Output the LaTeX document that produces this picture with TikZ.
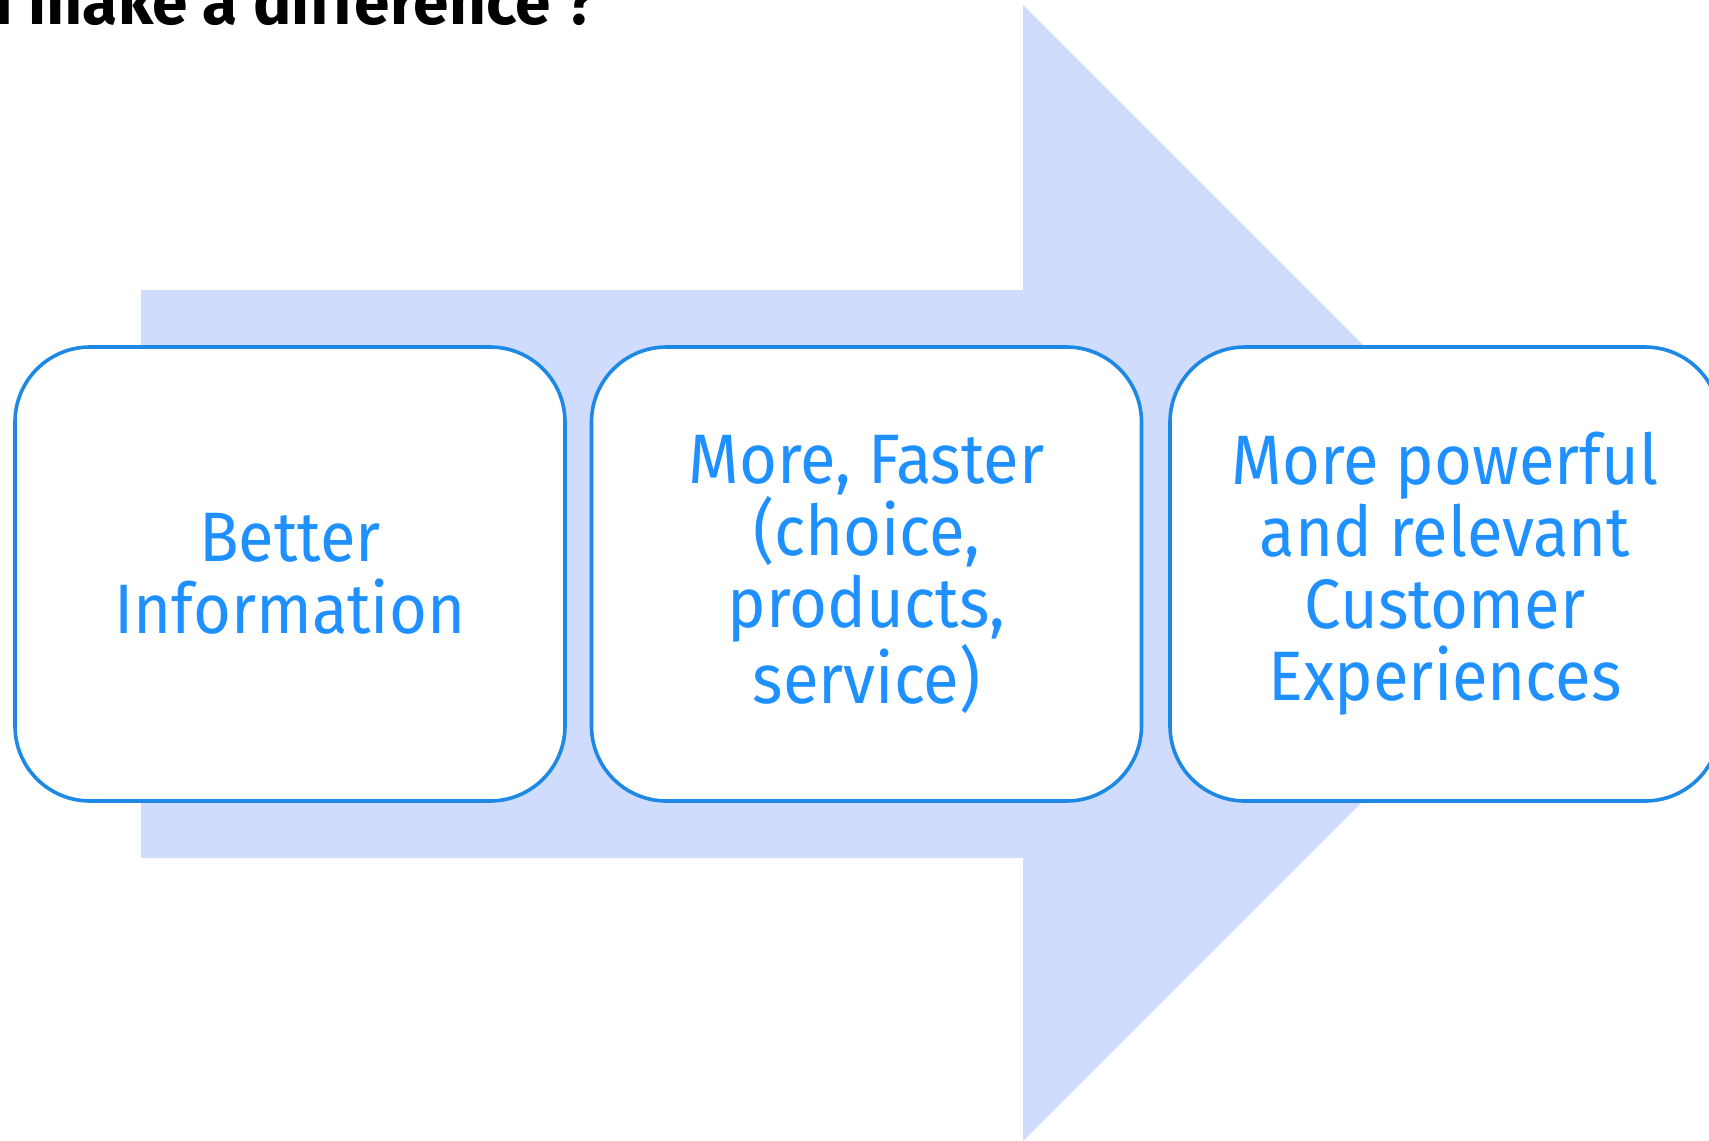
\documentclass[tikz,border=0pt]{standalone}
\usepackage{fontspec}
\setmainfont{Fira Sans}[FakeStretch=0.93]
\newfontfamily\titlefont{Fira Sans}
\definecolor{arrowfill}{HTML}{CFDCFD}
\definecolor{boxline}{HTML}{1E88E5}
\definecolor{boxtext}{HTML}{1E90FF}
\tikzset{
  stagebox/.style={draw=boxline, line width=1.8pt, fill=white, rounded corners=37.5pt,
    minimum width=275pt, minimum height=227pt, inner sep=0pt, align=center,
    text=boxtext, font=\fontsize{35pt}{36pt}\selectfont},
}
\begin{document}
\begin{tikzpicture}[x=0.5pt,y=-0.5pt]
\useasboundingbox (0,0) rectangle (1709,1141);
\clip (0,0) rectangle (1709,1141);
\fill[arrowfill] (141,290) -- (1023,290) -- (1023,5) -- (1591,573) -- (1023,1141) -- (1023,858) -- (141,858) -- cycle;
\node[stagebox] (b1) at (290,574) {Better\\Information};
\node[stagebox] (b2) at (866.5,574) {More, Faster\\(choice,\\products,\\service)};
\node[stagebox] (b3) at (1445,574) {More powerful\\and relevant\\Customer\\Experiences};
\node[anchor=base east, inner sep=0pt, font=\titlefont\bfseries\fontsize{32pt}{34pt}\selectfont] (title) at (597,24) {I make a difference ?};
\end{tikzpicture}
\end{document}
